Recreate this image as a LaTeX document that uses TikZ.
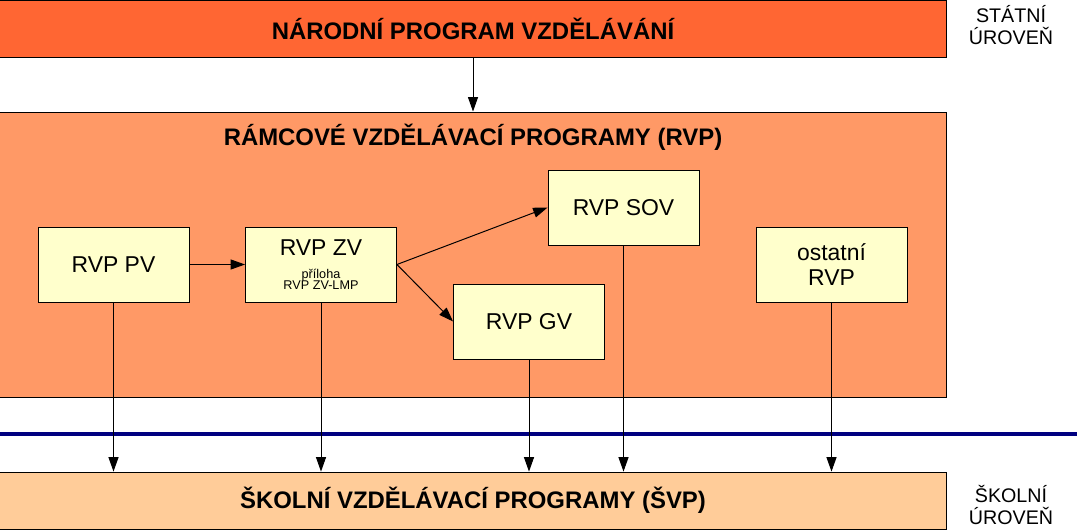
\documentclass[tikz,border=0pt]{standalone}
\usepackage{fontspec}
\setmainfont{Liberation Sans}
\usepackage{xcolor}
\usetikzlibrary{arrows.meta, positioning}

\definecolor{statni}{RGB}{255,102,51}
\definecolor{ramec}{RGB}{255,153,102}
\definecolor{skolni}{RGB}{255,204,153}
\definecolor{rvpbox}{RGB}{255,255,204}
\definecolor{hranice}{RGB}{0,0,128}

\newcommand{\malypis}{\fontsize{9}{10.5}\selectfont}

\begin{document}
\begin{tikzpicture}[x=0.025cm,y=-0.025cm,
  level/.style={draw,semithick,minimum width=23.65cm,minimum height=1.425cm,
                inner sep=0pt},
  program/.style={draw,semithick,fill=rvpbox,minimum width=3.775cm,
                  minimum height=1.875cm,align=center,inner sep=0pt,
                  font=\fontsize{16.3}{18}\selectfont},
  title/.style={font=\fontsize{17}{20}\selectfont\bfseries},
  side/.style={align=center,font=\fontsize{14}{15.6}\selectfont},
  flow/.style={-{Triangle[length=3.6mm,width=2.5mm]},line width=0.7pt}
]
  \useasboundingbox (0,0) rectangle (1077,530);

  % state level
  \node[level,fill=statni,title] (nar) at (473,28.5) {NÁRODNÍ PROGRAM VZDĚLÁVÁNÍ};
  \node[draw,semithick,fill=ramec,minimum width=23.65cm,minimum height=7.125cm,
        inner sep=0pt] (rvp) at (473,254.5) {};
  \node[title] (rvptit) at (473,137) {RÁMCOVÉ VZDĚLÁVACÍ PROGRAMY (RVP)};

  \node[program] (pv)  at (113.5,264.5) {RVP PV};
  \node[program] (zv)  at (321,264.5)
       {RVP ZV\\[-2pt]\malypis příloha\\[-10pt]\malypis RVP ZV-LMP};
  \node[program] (sov) at (623.5,207.5) {RVP SOV};
  \node[program] (gv)  at (529,321.5) {RVP GV};
  \node[program] (ost) at (831.5,264.5) {ostatní\\RVP};

  % school level
  \node[level,fill=skolni,title] (svp) at (473,500.5) {ŠKOLNÍ VZDĚLÁVACÍ PROGRAMY (ŠVP)};

  \coordinate (hl) at (0,434);
  \coordinate (hr) at (1077,434);
  \draw[hranice,line width=2.8pt] (hl) -- (hr);

  \node[side] (statni) at (1011,25) {STÁTNÍ\\ÚROVEŇ};
  \node[side] (skol)   at (1011,505) {ŠKOLNÍ\\ÚROVEŇ};

  % arrows
  \draw[flow] (nar) -- (rvp);
  \draw[flow] (pv) -- (zv);
  \draw[flow] (zv.east) -- (sov.west);
  \draw[flow] (zv.east) -- (gv.west);
  \foreach \p in {pv,zv,gv,sov,ost}
    \draw[flow] (\p.south) -- (\p.south |- svp.north);
\end{tikzpicture}
\end{document}
